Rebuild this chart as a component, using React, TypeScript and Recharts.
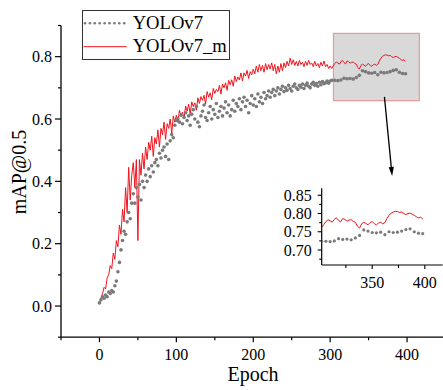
import React from 'react';
import { LineChart, Line, XAxis, YAxis, ReferenceArea, ReferenceLine, Legend } from 'recharts';

const FONT = '"Liberation Serif", "Times New Roman", "DejaVu Serif", serif';
const textStyle = { fontFamily: FONT };

// YOLOv7_m mAP@0.5, one value every 2 epochs starting at epoch 0
const yolov7mStep = 2;
const yolov7mMap = [
  0.010, 0.025, 0.040, 0.060, 0.055, 0.090, 0.100, 0.130, 0.120, 0.170,
  0.150, 0.210, 0.190, 0.260, 0.230, 0.310, 0.270, 0.380, 0.300, 0.445,
  0.340, 0.420, 0.460, 0.380, 0.470, 0.210, 0.470, 0.420, 0.490, 0.440,
  0.510, 0.470, 0.525, 0.500, 0.545, 0.480, 0.540, 0.520, 0.565, 0.510,
  0.570, 0.550, 0.590, 0.535, 0.585, 0.570, 0.600, 0.555, 0.610, 0.590,
  0.612, 0.590, 0.628, 0.610, 0.622, 0.600, 0.642, 0.625, 0.648, 0.615,
  0.655, 0.640, 0.652, 0.628, 0.668, 0.650, 0.672, 0.660, 0.676, 0.648,
  0.688, 0.670, 0.684, 0.662, 0.698, 0.682, 0.695, 0.688, 0.708, 0.680,
  0.712, 0.700, 0.716, 0.692, 0.724, 0.710, 0.726, 0.705, 0.738, 0.720,
  0.735, 0.725, 0.748, 0.722, 0.748, 0.738, 0.756, 0.730, 0.752, 0.742,
  0.760, 0.745, 0.770, 0.750, 0.775, 0.755, 0.772, 0.750, 0.778, 0.758,
  0.775, 0.760, 0.780, 0.755, 0.775, 0.745, 0.770, 0.750, 0.778, 0.755,
  0.780, 0.765, 0.785, 0.770, 0.795, 0.775, 0.790, 0.772, 0.785, 0.770,
  0.788, 0.775, 0.782, 0.768, 0.785, 0.772, 0.788, 0.775, 0.780, 0.768,
  0.785, 0.770, 0.778, 0.765, 0.782, 0.770, 0.786, 0.768, 0.775, 0.762,
  0.770, 0.762, 0.770, 0.778, 0.783, 0.780, 0.776, 0.784, 0.788, 0.781,
  0.777, 0.786, 0.784, 0.779, 0.782, 0.783, 0.778, 0.776, 0.765, 0.760,
  0.772, 0.776, 0.773, 0.769, 0.775, 0.778, 0.772, 0.769, 0.774, 0.776,
  0.772, 0.775, 0.786, 0.795, 0.801, 0.804, 0.806, 0.805, 0.803, 0.804,
  0.800, 0.797, 0.800, 0.801, 0.798, 0.795, 0.791, 0.788, 0.790, 0.785,
];

// YOLOv7 mAP@0.5, epochs 0..100 every 2 epochs
const yolov7EarlyMap = [
  0.010, 0.020, 0.030, 0.025, 0.035, 0.030, 0.045, 0.040, 0.050, 0.045,
  0.065, 0.080, 0.110, 0.140, 0.180, 0.210, 0.240, 0.230, 0.270, 0.300,
  0.280, 0.330, 0.360, 0.330, 0.380, 0.350, 0.390, 0.340, 0.400, 0.380,
  0.420, 0.400, 0.440, 0.415, 0.450, 0.430, 0.460, 0.470, 0.450, 0.490,
  0.475, 0.500, 0.510, 0.480, 0.520, 0.470, 0.530, 0.550, 0.540, 0.580,
  0.595,
];
// epochs 102..300 every 2 epochs
const yolov7MidMap = [
  0.600, 0.590, 0.612, 0.585, 0.605, 0.620, 0.595, 0.610, 0.580, 0.615,
  0.630, 0.600, 0.640, 0.590, 0.575, 0.610, 0.625, 0.645, 0.605, 0.595,
  0.620, 0.640, 0.600, 0.630, 0.615, 0.650, 0.605, 0.625, 0.640, 0.610,
  0.635, 0.655, 0.620, 0.645, 0.610, 0.630, 0.660, 0.625, 0.650, 0.640,
  0.665, 0.630, 0.655, 0.670, 0.640, 0.660, 0.620, 0.650, 0.675, 0.645,
  0.665, 0.640, 0.680, 0.655, 0.670, 0.650, 0.685, 0.665, 0.675, 0.690,
  0.670, 0.685, 0.695, 0.675, 0.690, 0.700, 0.680, 0.695, 0.705, 0.688,
  0.700, 0.692, 0.708, 0.698, 0.690, 0.705, 0.712, 0.700, 0.695, 0.708,
  0.702, 0.712, 0.698, 0.708, 0.715, 0.705, 0.700, 0.712, 0.718, 0.708,
  0.714, 0.705, 0.718, 0.710, 0.720, 0.713, 0.716, 0.722, 0.715, 0.722,
];
// epochs 302..398 every 4 epochs
const yolov7LateMap = [
  0.724, 0.724, 0.723, 0.725, 0.731, 0.729, 0.730, 0.728, 0.733, 0.740,
  0.755, 0.752, 0.748, 0.747, 0.749, 0.742, 0.750, 0.748, 0.749, 0.752,
  0.756, 0.758, 0.750, 0.746, 0.745,
];

const seriesNames = ['YOLOv7', 'YOLOv7_m'];
const mainXTicks = [-50, 0, 50, 100, 150, 200, 250, 300, 350, 400, 450];
const mainYTicks = [-0.1, 0, 0.1, 0.2, 0.3, 0.4, 0.5, 0.6, 0.7, 0.8, 0.9];
const insetXTicks = [325, 350, 375, 400];
const insetYTicks = [0.675, 0.7, 0.725, 0.75, 0.775, 0.8, 0.825, 0.85];
// zoomed window (epoch range, mAP range)
const zoomX = [304.3, 416];
const zoomY = [0.659, 0.875];

const redData = yolov7mMap.map((map, i) => ({ epoch: i * yolov7mStep, map }));
const grayData = [
  ...yolov7EarlyMap.map((map, i) => ({ epoch: i * 2, map })),
  ...yolov7MidMap.map((map, i) => ({ epoch: 102 + i * 2, map })),
  ...yolov7LateMap.map((map, i) => ({ epoch: 302 + i * 4, map })),
];
const redInset = redData.filter((d) => d.epoch >= 302);
const grayInset = grayData.filter((d) => d.epoch >= 302);

const RED = '#f0141e';
const GRAY = '#7a7a7a';

const MainXTick = (props: any) => {
  const { x, y, payload } = props;
  const v = payload.value;
  const major = v % 100 === 0;
  return (
    <g>
      <line x1={x} y1={y} x2={x} y2={y + (major ? 5 : 3)} stroke="#000" strokeWidth={1.2} />
      {major && (
        <text x={x} y={y + 23} textAnchor="middle" fontSize={16} style={textStyle} fill="#000">
          {v}
        </text>
      )}
    </g>
  );
};

const MainYTick = (props: any) => {
  const { x, y, payload } = props;
  const v = payload.value;
  const major = Math.abs(Math.round(v * 10)) % 2 === 0;
  return (
    <g>
      <line x1={x} y1={y} x2={x - (major ? 6 : 3)} y2={y} stroke="#000" strokeWidth={1.2} />
      {major && (
        <text x={x - 9} y={y + 5.5} textAnchor="end" fontSize={16} style={textStyle} fill="#000">
          {v.toFixed(1)}
        </text>
      )}
    </g>
  );
};

const InsetXTick = (props: any) => {
  const { x, y, payload } = props;
  const v = payload.value;
  const major = v % 50 === 0;
  return (
    <g>
      <line x1={x} y1={y} x2={x} y2={y + (major ? 4 : 3)} stroke="#000" strokeWidth={1.1} />
      {major && (
        <text x={x} y={y + 23} textAnchor="middle" fontSize={16} style={textStyle} fill="#000">
          {v}
        </text>
      )}
    </g>
  );
};

const InsetYTick = (props: any) => {
  const { x, y, payload } = props;
  const v = payload.value;
  const major = Math.round(v * 1000) % 50 === 0;
  return (
    <g>
      <line x1={x} y1={y} x2={x - (major ? 4 : 2.5)} y2={y} stroke="#000" strokeWidth={1.1} />
      {major && (
        <text x={x - 10} y={y + 5.5} textAnchor="end" fontSize={16} style={textStyle} fill="#000">
          {v.toFixed(2)}
        </text>
      )}
    </g>
  );
};

const Arrow = (props: any) => {
  const { x1, y1, x2, y2 } = props;
  const ang = Math.atan2(y2 - y1, x2 - x1);
  const len = 9;
  const half = 2.6;
  const bx = x2 - len * Math.cos(ang);
  const by = y2 - len * Math.sin(ang);
  const px = -Math.sin(ang) * half;
  const py = Math.cos(ang) * half;
  return (
    <g>
      <line x1={x1} y1={y1} x2={bx} y2={by} stroke="#000" strokeWidth={1.3} />
      <polygon points={`${x2},${y2} ${bx + px},${by + py} ${bx - px},${by - py}`} fill="#000" />
    </g>
  );
};

const renderLegend = () => (
  <svg width={148} height={50} style={{ display: 'block' }}>
    <rect x={0.5} y={0.5} width={147} height={49} fill="#fff" stroke="#333" strokeWidth={1} />
    {Array.from({ length: 9 }, (_, i) => (
      <circle key={i} cx={3 + i * 4.9} cy={13.3} r={1.3} fill={GRAY} />
    ))}
    <line x1={1.5} y1={36.7} x2={44.7} y2={36.7} stroke={RED} strokeWidth={1} />
    <text x={50.7} y={18.8} fontSize={18.6} style={textStyle} fill="#000">{seriesNames[0]}</text>
    <text x={50.7} y={42} fontSize={18.6} style={textStyle} fill="#000">{seriesNames[1]}</text>
  </svg>
);

const yTitle = () => (
  <text x={26} y={172} transform="rotate(-90 26 172)" textAnchor="middle" fontSize={20} style={textStyle} fill="#000">
    mAP@0.5
  </text>
);

const xTitle = () => (
  <text x={253} y={381} textAnchor="middle" fontSize={20} style={textStyle} fill="#000">
    Epoch
  </text>
);

export default function App() {
  return (
    <div style={{ position: 'absolute', left: 0, top: 0, width: 443, height: 390, overflow: 'hidden', background: '#fff' }}>
      <LineChart width={450} height={390} margin={{ top: 25.5, right: 4.5, bottom: 0, left: 0 }}>
        <XAxis
          type="number"
          dataKey="epoch"
          domain={[-50, 450]}
          ticks={mainXTicks}
          interval={0}
          height={52.8}
          tickSize={0}
          tickMargin={0}
          tickLine={false}
          tick={MainXTick}
          axisLine={{ stroke: '#000', strokeWidth: 1.3 }}
          label={xTitle}
        />
        <YAxis
          type="number"
          domain={[-0.1, 0.9]}
          ticks={mainYTicks}
          interval={0}
          width={61}
          tickSize={0}
          tickMargin={0}
          tickLine={false}
          tick={MainYTick}
          axisLine={{ stroke: '#000', strokeWidth: 1.3 }}
          label={yTitle}
        />
        <Line
          data={grayData}
          dataKey="map"
          name={seriesNames[0]}
          stroke="none"
          dot={{ r: 1.8, fill: GRAY, stroke: 'none' }}
          isAnimationActive={false}
        />
        <Line
          data={redData}
          dataKey="map"
          name={seriesNames[1]}
          type="linear"
          stroke={RED}
          strokeWidth={1}
          dot={false}
          isAnimationActive={false}
        />
        <ReferenceArea
          x1={zoomX[0]}
          x2={zoomX[1]}
          y1={zoomY[0]}
          y2={zoomY[1]}
          fill="#b3b3b3"
          fillOpacity={0.5}
          stroke="#e69a9a"
          strokeWidth={1.2}
        />
        <ReferenceLine
          segment={[{ x: 370.6, y: 0.671 }, { x: 380.6, y: 0.417 }]}
          shape={Arrow}
        />
        <Legend
          layout="vertical"
          align="center"
          verticalAlign="middle"
          content={renderLegend}
          wrapperStyle={{ left: 82, top: 10, width: 148, height: 50 }}
        />
      </LineChart>
      <div style={{ position: 'absolute', left: 272, top: 178 }}>
        <LineChart width={172} height={118} margin={{ top: 10.3, right: 1.3, bottom: 0, left: 0 }}>
          <XAxis
            type="number"
            dataKey="epoch"
            domain={[302, 417]}
            ticks={insetXTicks}
            interval={0}
            height={31}
            tickSize={0}
            tickMargin={0}
            tickLine={false}
            tick={InsetXTick}
            axisLine={{ stroke: '#000', strokeWidth: 1.2 }}
            allowDataOverflow
          />
          <YAxis
            type="number"
            domain={[0.659, 0.869]}
            ticks={insetYTicks}
            interval={0}
            width={49.7}
            tickSize={0}
            tickMargin={0}
            tickLine={false}
            tick={InsetYTick}
            axisLine={{ stroke: '#000', strokeWidth: 1.2 }}
            allowDataOverflow
          />
          <Line
            data={grayInset}
            dataKey="map"
            stroke="none"
            dot={{ r: 1.6, fill: GRAY, stroke: 'none' }}
            isAnimationActive={false}
          />
          <Line
            data={redInset}
            dataKey="map"
            type="linear"
            stroke={RED}
            strokeWidth={1}
            dot={false}
            isAnimationActive={false}
          />
        </LineChart>
      </div>
    </div>
  );
}
